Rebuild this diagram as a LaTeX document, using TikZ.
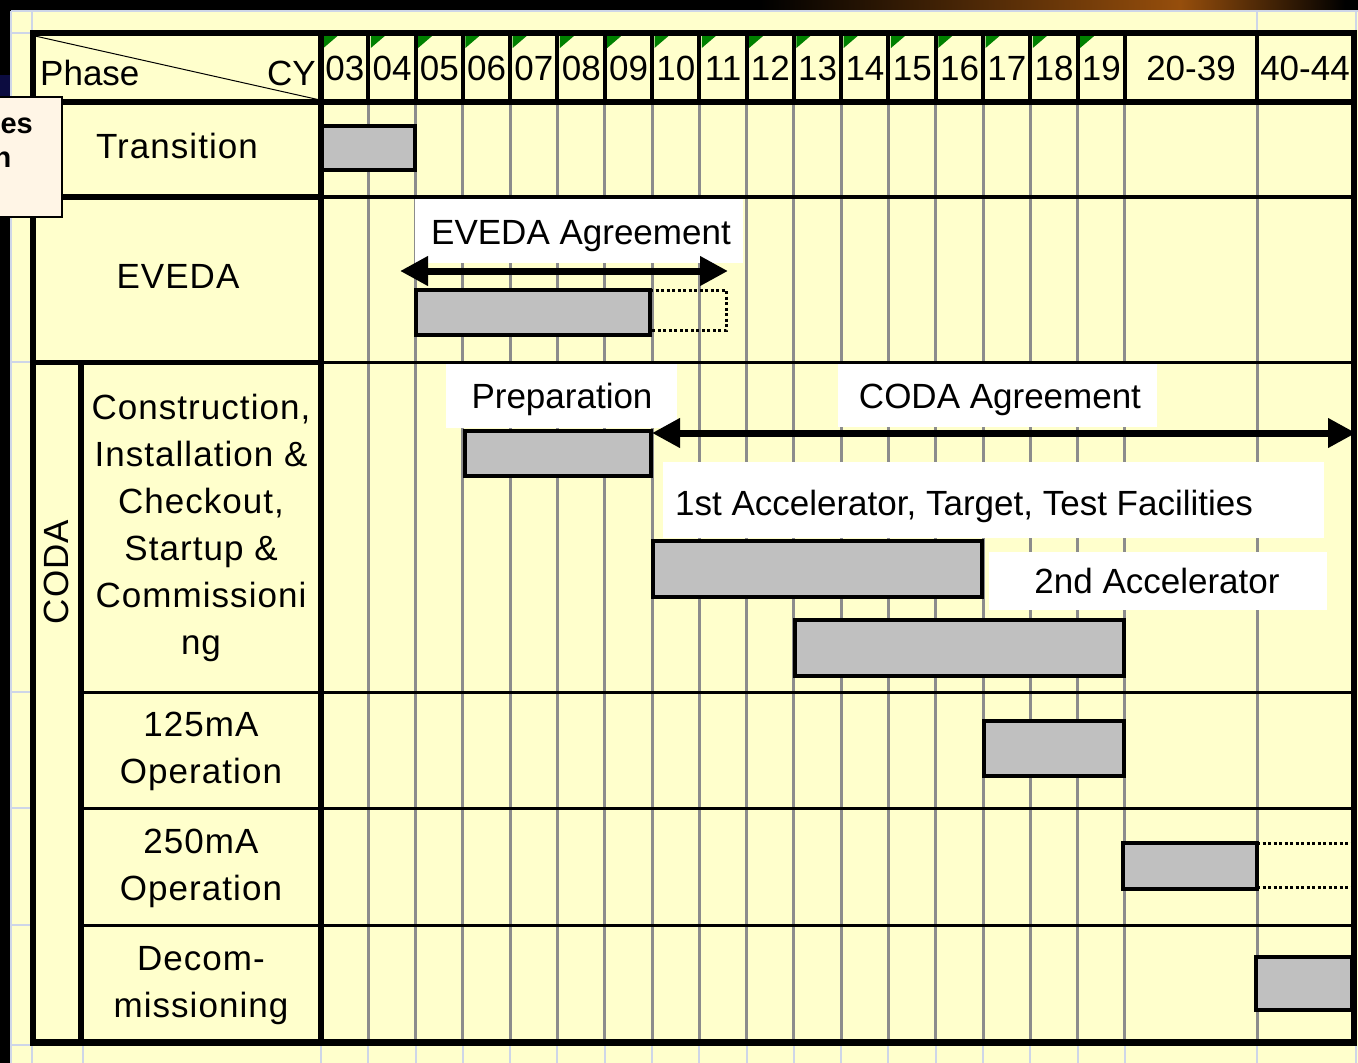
\documentclass[tikz,border=0pt]{standalone}
\usepackage{fontspec}
\setmainfont{Liberation Sans}
\newfontfamily\labfam[LetterSpace=3]{Liberation Sans}
\usetikzlibrary{arrows.meta}
\definecolor{cream}{RGB}{255,255,204}
\definecolor{barg}{RGB}{192,192,192}
\definecolor{gridg}{RGB}{140,140,140}
\definecolor{sheet}{RGB}{206,214,232}
\definecolor{peach}{RGB}{255,245,230}
\definecolor{xlgreen}{RGB}{0,128,0}
\definecolor{orangeb}{RGB}{150,78,12}
\definecolor{navyb}{RGB}{12,12,64}
\begin{document}
\begin{tikzpicture}[x=1pt,y=-1pt,
  barbox/.style={draw=black, fill=barg, line width=4pt},
  gridln/.style={draw=gridg, line width=3pt},
  sheetln/.style={draw=sheet, line width=2pt},
  txt/.style={font=\fontsize{35}{47}\selectfont, inner sep=0pt},
  lab/.style={font=\labfam\fontsize{35}{47}\selectfont, inner sep=0pt, align=center},
  dbl/.style={line width=7pt, {Triangle[length=28pt,width=28pt]}-{Triangle[length=28pt,width=28pt]}},
  dotln/.style={line width=3pt, dash pattern=on 3pt off 2.5pt}
]
\useasboundingbox (0,0) rectangle (1358,1063);
\clip (0,0) rectangle (1358,1063);
% background
\fill[black] (0,0) rectangle (1358,1063);
\shade[left color=black, right color=orangeb] (760,0) rectangle (1180,11);
\shade[left color=orangeb, right color=black] (1180,0) rectangle (1345,11);
\fill[navyb] (0,75) rectangle (10,97);
\fill[cream] (11,11) rectangle (1358,1063);
% spreadsheet lines
\draw[sheetln] (11,11) -- (1358,11);
\draw[sheetln] (11,11) -- (11,1063);
\draw[sheetln] (32,11) -- (32,1063);
\foreach \yy in {33,362,692,808,925,1045} \draw[sheetln] (11,\yy) -- (32,\yy);
\foreach \xx in {83,321,1257,1356} \draw[sheetln] (\xx,1045) -- (\xx,1063);
\foreach \k in {1,...,17} {\pgfmathsetmacro\xx{321+47.29*\k}
  \draw[sheetln] (\xx,1045) -- (\xx,1063);}
\draw[sheetln] (1257,11) -- (1257,33);
\draw[sheetln] (1356,11) -- (1356,33);
% chart gridlines
\foreach \k in {1,...,17} {\pgfmathsetmacro\xx{321+47.29*\k}
  \draw[gridln] (\xx,102) -- (\xx,1042);}
\draw[gridln] (1257,102) -- (1257,1042);
% row lines in chart area
\draw[line width=4pt] (321,197) -- (1354,197);
\draw[line width=3pt] (321,362) -- (1354,362);
\foreach \yy in {692,808,925} \draw[line width=3pt] (81,\yy) -- (1354,\yy);
% header vertical lines
\foreach \k in {1,...,17} {\pgfmathsetmacro\xx{321+47.29*\k}
  \draw[line width=4pt] (\xx,33) -- (\xx,102);}
\draw[line width=4pt] (1257,33) -- (1257,102);
% green corner marks
\foreach \k in {0,...,16} {\pgfmathsetmacro\xx{321+47.29*\k+2.5}
  \fill[xlgreen] (\xx,36) -- ++(14,0) -- ++(-14,12) -- cycle;}
% header texts
\draw[line width=1pt] (35,36) -- (320,100);
\node[txt, anchor=base west] (phase) at (40,85) {Phase};
\node[txt, anchor=base east] (cy) at (316,85) {CY};
\foreach \k in {0,...,16} {\pgfmathtruncatemacro\yr{\k+3}
  \pgfmathsetmacro\xx{321+47.29*\k+23.8}
  \node[txt, anchor=base] (yr\k) at (\xx,80) {\ifnum\yr<10 0\fi\yr};}
\node[txt, anchor=base] (yrA) at (1191,80) {20-39};
\node[txt, anchor=base] (yrB) at (1305,80) {40-44};
% bars
\draw[barbox] (321,126) rectangle (415,170);
\draw[barbox] (416,290) rectangle (650,335);
\draw[dotln] (650,290) -- (726,290) -- (726,330) -- (650,330) -- cycle;
\draw[barbox] (465,431) rectangle (651,476);
\draw[barbox] (653,541) rectangle (982,597);
\draw[barbox] (795,620) rectangle (1124,676);
\draw[barbox] (984,721) rectangle (1124,776);
\draw[barbox] (1123,843) rectangle (1257,889);
\draw[dotln] (1257,843) -- (1352,843);
\draw[dotln] (1257,887) -- (1352,887);
\draw[barbox] (1256,957) rectangle (1352,1010);
% white label boxes and texts
\fill[white] (415,199) rectangle (743,263);
\node[txt, anchor=base] (teveda) at (581,244) {EVEDA Agreement};
\fill[white] (446,364) rectangle (677,428);
\node[txt, anchor=base] (tprep) at (562,408) {Preparation};
\fill[white] (838,364) rectangle (1157,427);
\node[txt, anchor=base] (tcoda) at (1000,408) {CODA Agreement};
\fill[white] (663,462) rectangle (1324,538);
\node[txt, anchor=base] (tfirst) at (964,515) {1st Accelerator, Target, Test Facilities};
\fill[white] (989,552) rectangle (1327,610);
\node[txt, anchor=base] (tsecond) at (1157,593) {2nd Accelerator};
% arrows
\coordinate (ea) at (400,271);
\coordinate (eb) at (728,271);
\draw[dbl] (ea) -- (eb);
\coordinate (ca) at (652,433);
\coordinate (cb) at (1356,433);
\draw[dbl] (ca) -- (cb);
% label column
\node[lab, anchor=base] (ltrans) at (177,158) {Transition};
\node[lab, anchor=base] (leveda) at (178,288) {EVEDA};
\node[lab, rotate=90] (lcoda) at (56,572) {CODA};
\node[lab] (lcons) at (201,528) {Construction,\\Installation \&\\Checkout,\\Startup \&\\Commissioni\\ng};
\node[lab] (lop1) at (201,751) {125mA\\Operation};
\node[lab] (lop2) at (201,868) {250mA\\Operation};
\node[lab] (ldecom) at (201,986) {Decom-\\missioning};
% thick frame lines
\draw[line width=6pt] (33,102) -- (1354,102);
\draw[line width=6pt] (33,197) -- (321,197);
\draw[line width=5pt] (33,362) -- (321,362);
\draw[line width=6pt] (321,33) -- (321,1042);
\draw[line width=6pt] (81,362) -- (81,1042);
\draw[line width=6pt] (33,33) -- (1354,33);
\draw[line width=6pt] (33,30) -- (33,1045);
\draw[line width=6pt] (1354,30) -- (1354,1045);
\draw[line width=7pt] (30,1042) -- (1357,1042);
% partial side box
\draw[fill=peach, line width=2pt] (-5,97) rectangle (62,217);
\node[font=\bfseries\fontsize{29}{34}\selectfont, anchor=base east, inner sep=0pt] (sides) at (33,133) {es};
\node[font=\bfseries\fontsize{29}{34}\selectfont, anchor=base east, inner sep=0pt] (siden) at (11.5,167) {n};
\end{tikzpicture}
\end{document}
